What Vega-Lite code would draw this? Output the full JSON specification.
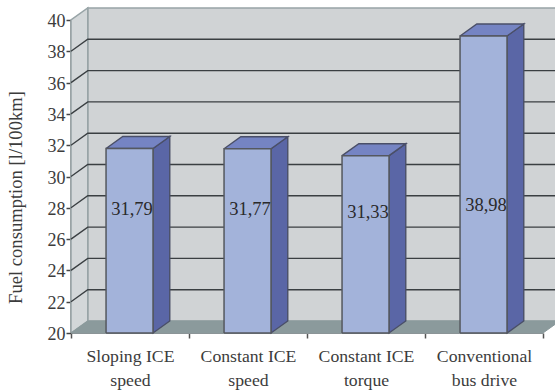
{
  "$schema": "https://vega.github.io/schema/vega-lite/v6.json",
  "width": 472,
  "height": 313,
  "autosize": {"type": "none"},
  "padding": {"left": 71, "top": 20, "right": 12, "bottom": 59},
  "background": "#ffffff",
  "config": {"view": {"stroke": null}},
  "params": [
    {"name": "depthX", "value": 0.142},
    {"name": "depthY", "value": 0.767},
    {"name": "barStart", "value": 0.297},
    {"name": "barEnd", "value": 0.695}
  ],
  "datasets": {
    "bars": [
      {"category": "Sloping ICE speed", "value": 31.79},
      {"category": "Constant ICE speed", "value": 31.77},
      {"category": "Constant ICE torque", "value": 31.33},
      {"category": "Conventional bus drive", "value": 38.98}
    ],
    "frame": [{"low": 20, "high": 40, "first": 0, "last": 4}],
    "levels": [
      {"level": 22}, {"level": 24}, {"level": 26}, {"level": 28}, {"level": 30},
      {"level": 32}, {"level": 34}, {"level": 36}, {"level": 38}
    ]
  },
  "encoding": {
    "x": {
      "field": "px",
      "type": "quantitative",
      "scale": {"domain": [0, 4], "nice": false, "zero": false},
      "axis": {
        "title": null,
        "grid": false,
        "values": [0, 0.5, 1, 1.5, 2, 2.5, 3, 3.5, 4],
        "labelExpr": "datum.value == 0.5 ? ['Sloping ICE', 'speed'] : datum.value == 1.5 ? ['Constant ICE', 'speed'] : datum.value == 2.5 ? ['Constant ICE', 'torque'] : datum.value == 3.5 ? ['Conventional', 'bus drive'] : ''",
        "labelFont": "Liberation Serif",
        "labelFontSize": 17.7,
        "labelColor": "#3c3c3c",
        "labelLineHeight": 24,
        "labelPadding": 9,
        "labelOverlap": false,
        "labelBound": false,
        "labelFlush": false,
        "labelBaseline": "top",
        "tickSize": 5,
        "tickWidth": 1.5,
        "tickColor": "#555555",
        "tickOpacity": {"condition": {"test": "datum.value % 1 !== 0", "value": 0}, "value": 1},
        "domainColor": "#8a8f92",
        "domainWidth": 1
      }
    },
    "y": {
      "field": "py",
      "type": "quantitative",
      "scale": {"domain": [20, 40], "nice": false, "zero": false},
      "axis": {
        "title": "Fuel consumption [l/100km]",
        "titleFont": "Liberation Serif",
        "titleFontSize": 18.6,
        "titleFontWeight": "normal",
        "titleColor": "#3c3c3c",
        "titleX": -46,
        "titleY": 177,
        "grid": false,
        "values": [20, 22, 24, 26, 28, 30, 32, 34, 36, 38, 40],
        "labelFont": "Liberation Serif",
        "labelFontSize": 18,
        "labelColor": "#3c3c3c",
        "labelPadding": 1,
        "labelOffset": 1.5,
        "labelBound": false,
        "labelFlush": false,
        "tickSize": 5,
        "tickWidth": 1.5,
        "tickColor": "#444444",
        "domainColor": "#444444",
        "domainWidth": 2
      }
    }
  },
  "layer": [
    {
      "description": "back wall",
      "data": {"name": "frame"},
      "transform": [
        {"calculate": "[datum.first + depthX, datum.last + depthX, datum.last + depthX, datum.first + depthX, datum.first + depthX]", "as": "px"},
        {"calculate": "[datum.low + depthY, datum.low + depthY, datum.high + depthY, datum.high + depthY, datum.low + depthY]", "as": "py"},
        {"calculate": "[0, 1, 2, 3, 4]", "as": "seq"},
        {"flatten": ["px", "py", "seq"]}
      ],
      "mark": {"type": "line", "fill": "#d0d3d5", "stroke": "#98a4a7", "strokeWidth": 1.5},
      "encoding": {"order": {"field": "seq", "type": "quantitative"}}
    },
    {
      "description": "left wall",
      "data": {"name": "frame"},
      "transform": [
        {"calculate": "[datum.first, datum.first + depthX, datum.first + depthX, datum.first, datum.first]", "as": "px"},
        {"calculate": "[datum.low, datum.low + depthY, datum.high + depthY, datum.high, datum.low]", "as": "py"},
        {"calculate": "[0, 1, 2, 3, 4]", "as": "seq"},
        {"flatten": ["px", "py", "seq"]}
      ],
      "mark": {"type": "line", "fill": "#d3d7d9", "stroke": "#98a4a7", "strokeWidth": 1.5},
      "encoding": {"order": {"field": "seq", "type": "quantitative"}}
    },
    {
      "description": "floor",
      "data": {"name": "frame"},
      "transform": [
        {"calculate": "[datum.first, datum.first + depthX, datum.last + depthX, datum.last, datum.first]", "as": "px"},
        {"calculate": "[datum.low, datum.low + depthY, datum.low + depthY, datum.low, datum.low]", "as": "py"},
        {"calculate": "[0, 1, 2, 3, 4]", "as": "seq"},
        {"flatten": ["px", "py", "seq"]}
      ],
      "mark": {"type": "line", "fill": "#8b9a9c", "stroke": "#8b9a9c", "strokeWidth": 1},
      "encoding": {"order": {"field": "seq", "type": "quantitative"}}
    },
    {
      "description": "gridlines running across the left and back walls",
      "data": {"name": "levels"},
      "transform": [
        {"calculate": "[0, depthX, 4 + depthX]", "as": "px"},
        {"calculate": "[datum.level, datum.level + depthY, datum.level + depthY]", "as": "py"},
        {"calculate": "[0, 1, 2]", "as": "seq"},
        {"flatten": ["px", "py", "seq"]}
      ],
      "mark": {"type": "line", "stroke": "#3a3f42", "strokeWidth": 1.4},
      "encoding": {
        "detail": {"field": "level", "type": "quantitative"},
        "order": {"field": "seq", "type": "quantitative"}
      }
    },
    {
      "description": "bar side faces",
      "data": {"name": "bars"},
      "transform": [
        {"window": [{"op": "row_number", "as": "slot"}]},
        {"calculate": "datum.slot - 1 + barEnd", "as": "right"},
        {"calculate": "[datum.right, datum.right + depthX, datum.right + depthX, datum.right, datum.right]", "as": "px"},
        {"calculate": "[datum.value, datum.value + depthY, 20 + depthY, 20, datum.value]", "as": "py"},
        {"calculate": "[0, 1, 2, 3, 4]", "as": "seq"},
        {"flatten": ["px", "py", "seq"]}
      ],
      "mark": {"type": "line", "fill": "#5a66a6", "stroke": "#4a4f68", "strokeWidth": 1.4},
      "encoding": {
        "detail": {"field": "category", "type": "nominal"},
        "order": {"field": "seq", "type": "quantitative"}
      }
    },
    {
      "description": "bar top faces",
      "data": {"name": "bars"},
      "transform": [
        {"window": [{"op": "row_number", "as": "slot"}]},
        {"calculate": "datum.slot - 1 + barStart", "as": "left"},
        {"calculate": "datum.slot - 1 + barEnd", "as": "right"},
        {"calculate": "[datum.left, datum.left + depthX, datum.right + depthX, datum.right, datum.left]", "as": "px"},
        {"calculate": "[datum.value, datum.value + depthY, datum.value + depthY, datum.value, datum.value]", "as": "py"},
        {"calculate": "[0, 1, 2, 3, 4]", "as": "seq"},
        {"flatten": ["px", "py", "seq"]}
      ],
      "mark": {"type": "line", "fill": "#7584c3", "stroke": "#4a4f68", "strokeWidth": 1.4},
      "encoding": {
        "detail": {"field": "category", "type": "nominal"},
        "order": {"field": "seq", "type": "quantitative"}
      }
    },
    {
      "description": "bar front faces",
      "data": {"name": "bars"},
      "transform": [
        {"window": [{"op": "row_number", "as": "slot"}]},
        {"calculate": "datum.slot - 1 + barStart", "as": "left"},
        {"calculate": "datum.slot - 1 + barEnd", "as": "right"},
        {"calculate": "[datum.left, datum.right, datum.right, datum.left, datum.left]", "as": "px"},
        {"calculate": "[20, 20, datum.value, datum.value, 20]", "as": "py"},
        {"calculate": "[0, 1, 2, 3, 4]", "as": "seq"},
        {"flatten": ["px", "py", "seq"]}
      ],
      "mark": {"type": "line", "fill": "#a3b3da", "stroke": "#55585f", "strokeWidth": 1.5},
      "encoding": {
        "detail": {"field": "category", "type": "nominal"},
        "order": {"field": "seq", "type": "quantitative"}
      }
    },
    {
      "description": "value labels with a decimal comma",
      "data": {"name": "bars"},
      "transform": [
        {"window": [{"op": "row_number", "as": "slot"}]},
        {"calculate": "datum.slot - 0.5", "as": "px"},
        {"calculate": "min(28.2, 27.7 + (datum.value - 31.33) * 0.55)", "as": "py"},
        {"calculate": "replace(format(datum.value, '.2f'), '.', ',')", "as": "label"}
      ],
      "mark": {"type": "text", "font": "Liberation Serif", "fontSize": 18.5, "fill": "#2a2a2a", "dx": 2, "align": "center", "baseline": "middle"},
      "encoding": {"text": {"field": "label", "type": "nominal"}}
    }
  ]
}
